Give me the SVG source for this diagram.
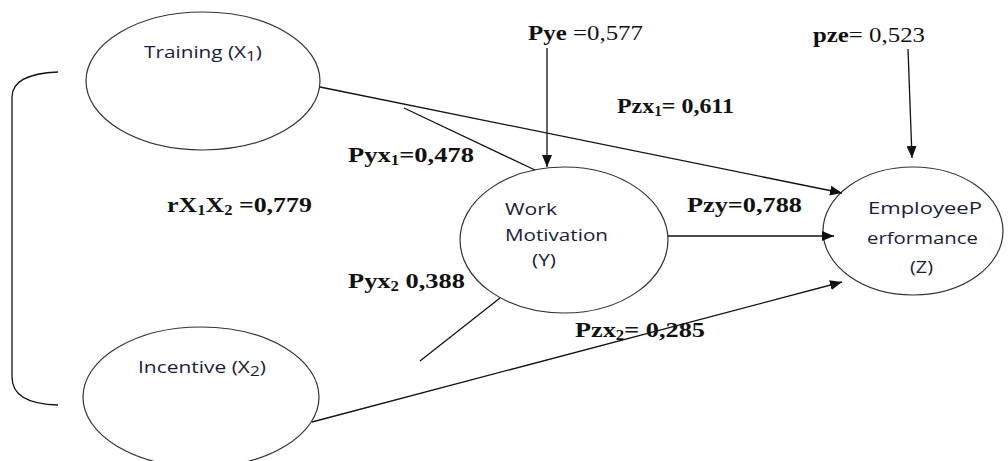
<svg xmlns="http://www.w3.org/2000/svg" width="1008" height="461" viewBox="0 0 1008 461">
<style>
.node{fill:#fff;stroke:#333;stroke-width:1.2}
.lbl{font-family:"Open Sans","Liberation Sans",sans-serif;font-size:17px;fill:#1c1c38}
.coef{font-family:"Liberation Serif","Times New Roman",serif;font-size:22px;font-weight:bold;fill:#111}
.reg{font-weight:normal}
.sub{font-size:14px}
.conn{stroke:#111;stroke-width:1.3;fill:none}
</style>
<defs>
<marker id="ah" viewBox="0 0 12 10" refX="12" refY="5" markerWidth="12" markerHeight="10" markerUnits="userSpaceOnUse" orient="auto">
<path d="M0,0 L12,5 L0,10 Z" fill="#111"/>
</marker>
</defs>
<rect width="1008" height="461" fill="#fff"/>
<g id="training">
<ellipse class="node" cx="203" cy="81" rx="117" ry="69"/>
<text class="lbl" x="144" y="58" textLength="118" lengthAdjust="spacingAndGlyphs">Training (X<tspan class="sub" dy="3">1</tspan><tspan dy="-3">)</tspan></text>
</g>
<g id="incentive">
<ellipse class="node" cx="201" cy="397" rx="118" ry="70"/>
<text class="lbl" x="138" y="373" textLength="128" lengthAdjust="spacingAndGlyphs">Incentive (X<tspan class="sub" dy="3">2</tspan><tspan dy="-3">)</tspan></text>
</g>
<g id="motivation">
<ellipse class="node" cx="564" cy="240" rx="104" ry="73"/>
<text class="lbl" x="505" y="215" textLength="52" lengthAdjust="spacingAndGlyphs">Work</text>
<text class="lbl" x="505" y="241" textLength="103" lengthAdjust="spacingAndGlyphs">Motivation</text>
<text class="lbl" x="532" y="266" textLength="24" lengthAdjust="spacingAndGlyphs">(Y)</text>
</g>
<g id="performance">
<ellipse class="node" cx="913" cy="231" rx="90" ry="64"/>
<text class="lbl" x="868" y="214" textLength="114" lengthAdjust="spacingAndGlyphs">EmployeeP</text>
<text class="lbl" x="867" y="244" textLength="111" lengthAdjust="spacingAndGlyphs">erformance</text>
<text class="lbl" x="910" y="273" textLength="23" lengthAdjust="spacingAndGlyphs">(Z)</text>
</g>
<g id="connectors">
<path class="conn" d="M58,72 Q12,74 12,97 L12,377 Q12,404 58,405"/>
<line class="conn" x1="320" y1="87" x2="842" y2="193" marker-end="url(#ah)"/>
<line class="conn" x1="404" y1="108" x2="535" y2="170"/>
<line class="conn" x1="547" y1="48" x2="547" y2="167" marker-end="url(#ah)"/>
<line class="conn" x1="908" y1="49" x2="912" y2="158" marker-end="url(#ah)"/>
<line class="conn" x1="668" y1="236" x2="834" y2="236" marker-end="url(#ah)"/>
<line class="conn" x1="500" y1="298" x2="420" y2="361"/>
<line class="conn" x1="312" y1="422" x2="842" y2="282" marker-end="url(#ah)"/>
</g>
<g id="labels">
<text class="coef" x="528" y="40" textLength="115" lengthAdjust="spacingAndGlyphs">Pye <tspan class="reg">=0,577</tspan></text>
<text class="coef" x="813" y="42" textLength="112" lengthAdjust="spacingAndGlyphs">pze<tspan class="reg">= 0,523</tspan></text>
<text class="coef" x="617" y="113" textLength="117" lengthAdjust="spacingAndGlyphs">Pzx<tspan class="sub" dy="3">1</tspan><tspan dy="-3">= 0,611</tspan></text>
<text class="coef" x="348" y="162" textLength="126" lengthAdjust="spacingAndGlyphs">Pyx<tspan class="sub" dy="3">1</tspan><tspan dy="-3">=0,478</tspan></text>
<text class="coef" x="167" y="212" textLength="145" lengthAdjust="spacingAndGlyphs">rX<tspan class="sub" dy="3">1</tspan><tspan dy="-3">X</tspan><tspan class="sub" dy="3">2</tspan><tspan dy="-3"> =0,779</tspan></text>
<text class="coef" x="348" y="288" textLength="117" lengthAdjust="spacingAndGlyphs">Pyx<tspan class="sub" dy="3">2</tspan><tspan dy="-3"> 0,388</tspan></text>
<text class="coef" x="687" y="212" textLength="115" lengthAdjust="spacingAndGlyphs">Pzy=0,788</text>
<text class="coef" x="575" y="337" textLength="130" lengthAdjust="spacingAndGlyphs">Pzx<tspan class="sub" dy="3">2</tspan><tspan dy="-3">= 0,285</tspan></text>
</g>
</svg>
